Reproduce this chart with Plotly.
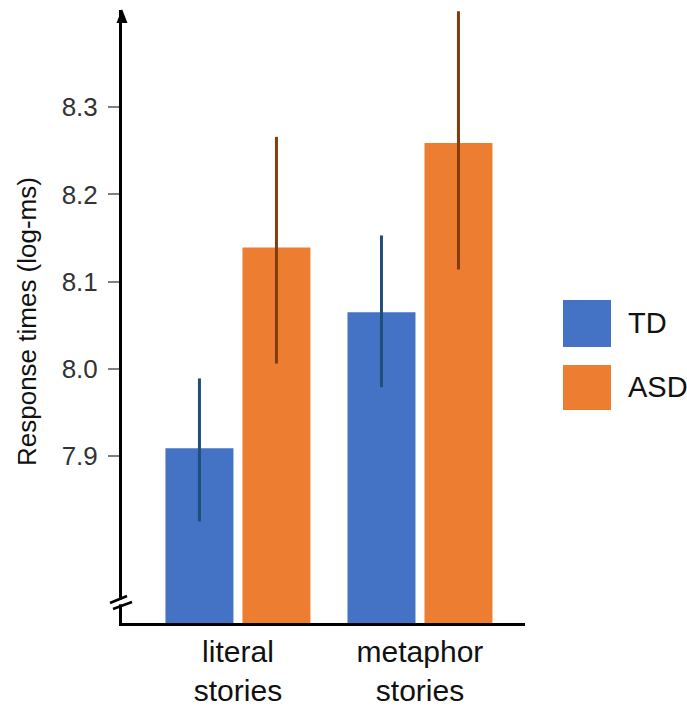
import plotly.graph_objects as go

categories = ["literal<br>stories", "metaphor<br>stories"]
td_mean = [7.909, 8.065]
td_upper = [7.989, 8.153]
td_lower = [7.825, 7.979]
asd_mean = [8.139, 8.259]
asd_upper = [8.266, 8.410]
asd_lower = [8.006, 8.114]
y_ticks = [7.9, 8.0, 8.1, 8.2, 8.3]
y_tick_labels = ["7.9", "8.0", "8.1", "8.2", "8.3"]

FONT = "Liberation Sans, Arial, Helvetica, sans-serif"
BLUE = "#4472C4"
ORANGE = "#ED7D31"

fig = go.Figure()
fig.add_trace(go.Bar(
    x=categories, y=td_mean, name="TD", marker=dict(color=BLUE, line=dict(width=0)),
    error_y=dict(type="data", symmetric=False,
                 array=[u - m for u, m in zip(td_upper, td_mean)],
                 arrayminus=[m - l for m, l in zip(td_mean, td_lower)],
                 color="#1F4E79", thickness=3, width=0),
))
fig.add_trace(go.Bar(
    x=categories, y=asd_mean, name="ASD", marker=dict(color=ORANGE, line=dict(width=0)),
    error_y=dict(type="data", symmetric=False,
                 array=[u - m for u, m in zip(asd_upper, asd_mean)],
                 arrayminus=[m - l for m, l in zip(asd_mean, asd_lower)],
                 color="#843C0C", thickness=3, width=0),
))

shapes = []
# arrow head on y axis
shapes.append(dict(type="path", xref="paper", yref="paper", xsizemode="pixel", ysizemode="pixel",
                   xanchor=0, yanchor=1, path="M -5.5,-13 L 0,1 L 5.5,-13 Z",
                   fillcolor="black", line=dict(width=0)))
# axis break
shapes.append(dict(type="rect", xref="paper", yref="paper", x0=-0.009, x1=0.009, y0=0.0305, y1=0.0385,
                   fillcolor="white", line=dict(width=0)))
shapes.append(dict(type="line", xref="paper", yref="paper", x0=-0.0298, y0=0.0326, x1=0.0124, y1=0.0440,
                   line=dict(color="black", width=2.5)))
shapes.append(dict(type="line", xref="paper", yref="paper", x0=-0.0223, y0=0.0228, x1=0.0248, y1=0.0343,
                   line=dict(color="black", width=2.5)))
# legend swatches
shapes.append(dict(type="rect", xref="paper", yref="paper", x0=1.0943, x1=1.2134, y0=0.4502, y1=0.5269,
                   fillcolor=BLUE, line=dict(width=0)))
shapes.append(dict(type="rect", xref="paper", yref="paper", x0=1.0943, x1=1.2134, y0=0.3475, y1=0.4209,
                   fillcolor=ORANGE, line=dict(width=0)))

annotations = [
    dict(text="Response times (log-ms)", xref="paper", yref="paper", x=-0.2357, y=0.491,
         textangle=-90, showarrow=False, xanchor="center", yanchor="middle",
         font=dict(family=FONT, size=26, color="#111111")),
    dict(text="TD", xref="paper", yref="paper", x=1.2506, y=0.4886, showarrow=False,
         xanchor="left", yanchor="middle", font=dict(family=FONT, size=29, color="#111111")),
    dict(text="ASD", xref="paper", yref="paper", x=1.2506, y=0.3842, showarrow=False,
         xanchor="left", yanchor="middle", font=dict(family=FONT, size=29, color="#111111")),
]

fig.update_layout(
    width=687, height=707,
    margin=dict(l=122, r=162, t=10, b=84, pad=0),
    paper_bgcolor="white", plot_bgcolor="white",
    barmode="group", bargap=0.154, bargroupgap=0.117,
    showlegend=False,
    font=dict(family=FONT),
    shapes=shapes, annotations=annotations,
    xaxis=dict(range=[-0.637, 1.577], showline=True, linecolor="black", linewidth=3,
               ticks="", showgrid=False, zeroline=False, automargin=False,
               tickfont=dict(family=FONT, size=30, color="#111111")),
    yaxis=dict(range=[7.7085, 8.4115], showline=True, linecolor="black", linewidth=3,
               ticks="outside", ticklen=11, tickwidth=1.5, tickcolor="#808080",
               tickvals=y_ticks, ticktext=y_tick_labels, ticklabelstandoff=5,
               showgrid=False, zeroline=False, automargin=False,
               tickfont=dict(family=FONT, size=26, color="#333333")),
)

fig.write_html("out.html", config={"displayModeBar": False},
               post_script="document.body.style.margin='0';")
